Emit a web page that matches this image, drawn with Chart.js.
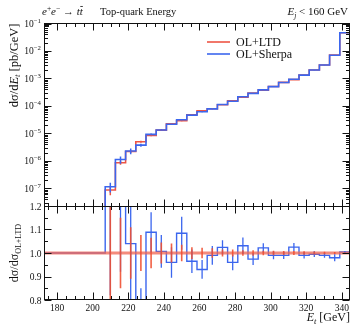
<!DOCTYPE html>
<html lang="en">
  <head>
    <meta charset="UTF-8" />
    <title>Top-quark Energy</title>
    <script src="https://cdn.jsdelivr.net/npm/chart.js"></script>
    <style>
      body { margin: 0; background: #fff; }
      #wrap { position: relative; width: 352px; height: 324px; }
      #wrap canvas { position: absolute; left: 0; top: 0; }
    </style>
  </head>
  <body>
    <div id="wrap">
      <canvas id="mainChart" width="352" height="324"></canvas>
      <canvas id="ratioChart" width="352" height="324"></canvas>
    </div>
    <script>
      // bin edges in GeV (30 bins, the first six are empty)
      const binEdges = [172.6, 178.33, 184.07, 189.8, 195.53, 201.27, 207.0, 212.73, 218.47, 224.2,
        229.93, 235.67, 241.4, 247.13, 252.87, 258.6, 264.33, 270.07, 275.8, 281.53, 287.27,
        293.0, 298.73, 304.47, 310.2, 315.93, 321.67, 327.4, 333.13, 338.87, 344.6];

      // dsigma/dE_t [pb/GeV]
      const ltdValues = [0, 0, 0, 0, 0, 0, 8.7e-8, 8.6e-7, 2.2e-6, 5.0e-6, 8.5e-6, 1.32e-5, 2.25e-5,
        2.9e-5, 4.8e-5, 6.6e-5, 7.9e-5, 1.1e-4, 1.55e-4, 2.1e-4, 2.95e-4, 3.75e-4, 5.1e-4, 7.2e-4,
        9.1e-4, 1.34e-3, 2.03e-3, 3.1e-3, 7.1e-3, 4.6e-2];
      const sherpaValues = [0, 0, 0, 0, 0, 0, 1.15e-7, 1.12e-6, 2.29e-6, 3.75e-6, 9.25e-6, 1.33e-5,
        2.16e-5, 3.14e-5, 4.63e-5, 6.14e-5, 7.82e-5, 1.126e-4, 1.49e-4, 2.17e-4, 2.87e-4, 3.83e-4,
        5.05e-4, 7.13e-4, 9.33e-4, 1.327e-3, 2.02e-3, 3.07e-3, 6.96e-3, 4.62e-2];
      // relative MC errors of OL+LTD
      const ltdRelErr = [0, 0, 0, 0, 0, 0, 0.35, 0.15, 0.11, 0.077, 0.065, 0.045, 0.04, 0.035, 0.025,
        0.022, 0.02, 0.015, 0.015, 0.012, 0.012, 0.01, 0.01, 0.008, 0.008, 0.007, 0.006, 0.005,
        0.004, 0.003];

      // ratio panel (reference OL+LTD)
      const ltdRatio = [1, 1, 1, 1, 1, 1, 1, 1, 1, 1, 1, 1, 1, 1, 1, 1, 1, 1, 1, 1, 1, 1, 1, 1, 1, 1,
        1, 1, 1, 1];
      const sherpaRatio = [1, 1, 1, 1, 1, 1, 1.32, 1.3, 1.04, 0.75, 1.088, 1.007, 0.96, 1.084, 0.965,
        0.93, 0.99, 1.024, 0.96, 1.031, 0.974, 1.022, 0.99, 0.99, 1.025, 0.99, 0.995, 0.99, 0.98,
        1.004];
      const sherpaRatioErr = [0, 0, 0, 0, 0, 0, 0.5, 0.38, 0.25, 0.1, 0.085, 0.07, 0.065, 0.07, 0.05,
        0.04, 0.04, 0.03, 0.033, 0.035, 0.025, 0.02, 0.017, 0.015, 0.018, 0.013, 0.012, 0.01,
        0.015, 0.005];

      const xTickLabels = [180, 200, 220, 240, 260, 280, 300, 320, 340];
      const logTickExps = [-7, -6, -5, -4, -3, -2, -1];
      const ratioTickLabels = ["0.8", "0.9", "1.0", "1.1", "1.2"];

      const X_MIN = 172.6, X_MAX = 344.6;
      const Y_MIN = 2.1e-8, Y_MAX = 0.1;
      const R_MIN = 0.8, R_MAX = 1.2;
      const MAJOR = 7, MINOR = 3.5;

      const RED = "#ee5544";
      const BLUE = "#3b66ee";
      const serif = '"Liberation Serif", "DejaVu Serif", serif';

      // histogram outline for a stepped line
      function stepPoints(vals, floor) {
        const pts = vals.map((v, i) => ({ x: binEdges[i], y: v > 0 ? v : floor }));
        pts.push({ x: binEdges[binEdges.length - 1], y: vals[vals.length - 1] });
        return pts;
      }

      function font(p) {
        return (p.it ? "italic " : "") + p.s + "px " + serif;
      }
      function richWidth(ctx, parts) {
        let w = 0;
        for (const p of parts) { ctx.font = font(p); w += ctx.measureText(p.t).width; }
        return w;
      }
      function drawRich(ctx, parts, x, y, align) {
        const w = richWidth(ctx, parts);
        let cx = align === "right" ? x - w : align === "center" ? x - w / 2 : x;
        ctx.textAlign = "left";
        ctx.textBaseline = "alphabetic";
        for (const p of parts) {
          ctx.font = font(p);
          const pw = ctx.measureText(p.t).width;
          ctx.fillText(p.t, cx, y + (p.dy || 0));
          if (p.bar) {
            ctx.fillRect(cx + 0.5, y - p.s * 0.82, pw - 0.5, 0.8);
          }
          cx += pw;
        }
      }

      function drawBars(chart, lows, highs, color, width) {
        const { ctx, chartArea: a, scales: { x, y } } = chart;
        ctx.save();
        ctx.beginPath();
        ctx.rect(a.left, a.top, a.right - a.left, a.bottom - a.top);
        ctx.clip();
        ctx.strokeStyle = color;
        ctx.lineWidth = width;
        ctx.beginPath();
        for (let i = 0; i < lows.length; i++) {
          if (lows[i] == null) continue;
          const cx = x.getPixelForValue((binEdges[i] + binEdges[i + 1]) / 2);
          ctx.moveTo(cx, y.getPixelForValue(lows[i]));
          ctx.lineTo(cx, y.getPixelForValue(highs[i]));
        }
        ctx.stroke();
        ctx.restore();
      }

      function drawFrame(chart, yTicks) {
        const { ctx, chartArea: a, scales: { x, y } } = chart;
        const L = Math.floor(a.left) + 0.5, R = Math.ceil(a.right) - 0.5;
        const T = Math.floor(a.top) + 0.5, B = Math.ceil(a.bottom) - 0.5;
        ctx.save();
        ctx.strokeStyle = "#111";
        ctx.lineWidth = 1;
        ctx.strokeRect(L, T, R - L, B - T);
        ctx.beginPath();
        for (let v = 175; v <= 340; v += 5) {
          const px = Math.round(x.getPixelForValue(v)) + 0.5;
          const len = v % 20 === 0 ? MAJOR : MINOR;
          ctx.moveTo(px, T); ctx.lineTo(px, T + len);
          ctx.moveTo(px, B); ctx.lineTo(px, B - len);
        }
        for (const t of yTicks) {
          const py = Math.round(y.getPixelForValue(t.v)) + 0.5;
          ctx.moveTo(L, py); ctx.lineTo(L + t.len, py);
          ctx.moveTo(R, py); ctx.lineTo(R - t.len, py);
        }
        ctx.stroke();
        ctx.restore();
      }

      const logTicks = [];
      for (let e = -8; e <= -1; e++) {
        for (let k = 1; k <= 9; k++) {
          const v = k * Math.pow(10, e);
          if (v >= Y_MIN && v <= Y_MAX * 1.0001) logTicks.push({ v, len: k === 1 ? MAJOR : MINOR });
        }
      }
      const ratioTicks = [];
      for (let k = 0; k <= 8; k++) {
        ratioTicks.push({ v: R_MIN + k * 0.05, len: k % 2 === 0 ? MAJOR : MINOR });
      }

      const upperDecor = {
        id: "upperDecor",
        afterDatasetsDraw(chart) {
          const { ctx, chartArea: a, scales: { y } } = chart;
          const lo = (vals, rel) => vals.map((v, i) => (v > 0 ? Math.max(Y_MIN, v * (1 - rel[i])) : null));
          const hi = (vals, rel) => vals.map((v, i) => (v > 0 ? v * (1 + rel[i]) : null));
          const sherpaRel = sherpaRatioErr.map((e, i) => e / sherpaRatio[i]);
          drawBars(chart, lo(ltdValues, ltdRelErr), hi(ltdValues, ltdRelErr), RED, 1.5);
          drawBars(chart, lo(sherpaValues, sherpaRel), hi(sherpaValues, sherpaRel), BLUE, 1.5);
          drawFrame(chart, logTicks);

          ctx.save();
          ctx.fillStyle = "#111";
          // y tick labels 10^n
          for (const e of logTickExps) {
            const py = y.getPixelForValue(Math.pow(10, e));
            drawRich(ctx, [{ t: "10", s: 9.5 }, { t: "\u2212" + (-e), s: 6.8, dy: -4 }], 41, py + 3.5, "right");
          }
          // header line
          drawRich(ctx, [
            { t: "e", s: 11, it: true }, { t: "+", s: 7.5, dy: -4.5 },
            { t: "e", s: 11, it: true }, { t: "\u2212", s: 7.5, dy: -4.5 },
            { t: " \u2192 ", s: 11 }, { t: "t", s: 11, it: true }, { t: "t", s: 11, it: true, bar: true }
          ], 42, 15, "left");
          drawRich(ctx, [{ t: "Top-quark Energy", s: 10.5 }], 100, 15, "left");
          drawRich(ctx, [{ t: "E", s: 11, it: true }, { t: "j", s: 7.5, it: true, dy: 2.5 },
            { t: " < 160 GeV", s: 11 }], 348, 15, "right");

          // legend
          const legend = [[RED, chart.data.datasets[1].label, 42], [BLUE, chart.data.datasets[0].label, 54]];
          for (const [col, label, ly] of legend) {
            ctx.strokeStyle = col;
            ctx.lineWidth = 1.6;
            ctx.beginPath(); ctx.moveTo(207, ly); ctx.lineTo(230, ly); ctx.stroke();
            drawRich(ctx, [{ t: label, s: 12 }], 236, ly + 4, "left");
          }

          // y axis title, aligned to the top of the panel
          ctx.translate(17.5, a.top);
          ctx.rotate(-Math.PI / 2);
          drawRich(ctx, [{ t: "d\u03C3/d", s: 12.5 }, { t: "E", s: 12.5, it: true },
            { t: "t", s: 8.5, it: true, dy: 2.5 }, { t: " [pb/GeV]", s: 12.5 }], 0, 0, "right");
          ctx.restore();
        }
      };

      const ratioDecor = {
        id: "ratioDecor",
        afterDatasetsDraw(chart) {
          const { ctx, chartArea: a, scales: { x, y } } = chart;
          drawBars(chart, sherpaRatio.map((r, i) => (sherpaRatioErr[i] > 0 ? r - sherpaRatioErr[i] : null)),
            sherpaRatio.map((r, i) => r + sherpaRatioErr[i]), BLUE, 1.3);
          drawBars(chart, ltdRatio.map((r, i) => (ltdRelErr[i] > 0 ? r - ltdRelErr[i] : null)),
            ltdRatio.map((r, i) => r + ltdRelErr[i]), "rgba(240,80,50,0.9)", 1.6);
          drawFrame(chart, ratioTicks);

          ctx.save();
          ctx.fillStyle = "#111";
          for (const lab of ratioTickLabels) {
            drawRich(ctx, [{ t: lab, s: 9.5 }], 41.5, y.getPixelForValue(parseFloat(lab)) + 3.5, "right");
          }
          for (const v of xTickLabels) {
            drawRich(ctx, [{ t: String(v), s: 9.5 }], x.getPixelForValue(v), 310.5, "center");
          }
          drawRich(ctx, [{ t: "E", s: 12, it: true }, { t: "t", s: 8.5, it: true, dy: 2.5 },
            { t: " [GeV]", s: 12 }], 350, 321, "right");

          ctx.translate(17.5, (a.top + a.bottom) / 2);
          ctx.rotate(-Math.PI / 2);
          drawRich(ctx, [{ t: "d\u03C3/d\u03C3", s: 12 }, { t: "OL+LTD", s: 8, dy: 3 }], 0, 0, "center");
          ctx.restore();
        }
      };

      function panelOptions(padding, yScale) {
        return {
          responsive: false,
          animation: false,
          events: [],
          layout: { padding },
          plugins: { legend: { display: false }, tooltip: { enabled: false } },
          elements: { point: { radius: 0 }, line: { tension: 0 } },
          scales: {
            x: { type: "linear", min: X_MIN, max: X_MAX, bounds: "data", display: false },
            y: Object.assign({ display: false, bounds: "data" }, yScale)
          }
        };
      }

      new Chart(document.getElementById("mainChart"), {
        type: "line",
        data: {
          datasets: [
            { label: "OL+Sherpa", data: stepPoints(sherpaValues, Y_MIN / 10), stepped: "before",
              borderColor: BLUE, borderWidth: 1.6, clip: 0 },
            { label: "OL+LTD", data: stepPoints(ltdValues, Y_MIN / 10), stepped: "before",
              borderColor: RED, borderWidth: 1.6, clip: 0 }
          ]
        },
        options: panelOptions({ left: 44, right: 2, top: 23.5, bottom: 117 },
          { type: "logarithmic", min: Y_MIN, max: Y_MAX }),
        plugins: [upperDecor]
      });

      new Chart(document.getElementById("ratioChart"), {
        type: "line",
        data: {
          datasets: [
            { label: "OL+LTD", data: stepPoints(ltdRatio, 1), stepped: "before",
              borderColor: "rgba(240,100,80,0.75)", borderWidth: 3, clip: 0 },
            { label: "OL+Sherpa", data: stepPoints(sherpaRatio, 1), stepped: "before",
              borderColor: BLUE, borderWidth: 1.4, clip: 0 }
          ]
        },
        options: panelOptions({ left: 44, right: 2, top: 206, bottom: 24 },
          { type: "linear", min: R_MIN, max: R_MAX }),
        plugins: [ratioDecor]
      });
    </script>
  </body>
</html>
